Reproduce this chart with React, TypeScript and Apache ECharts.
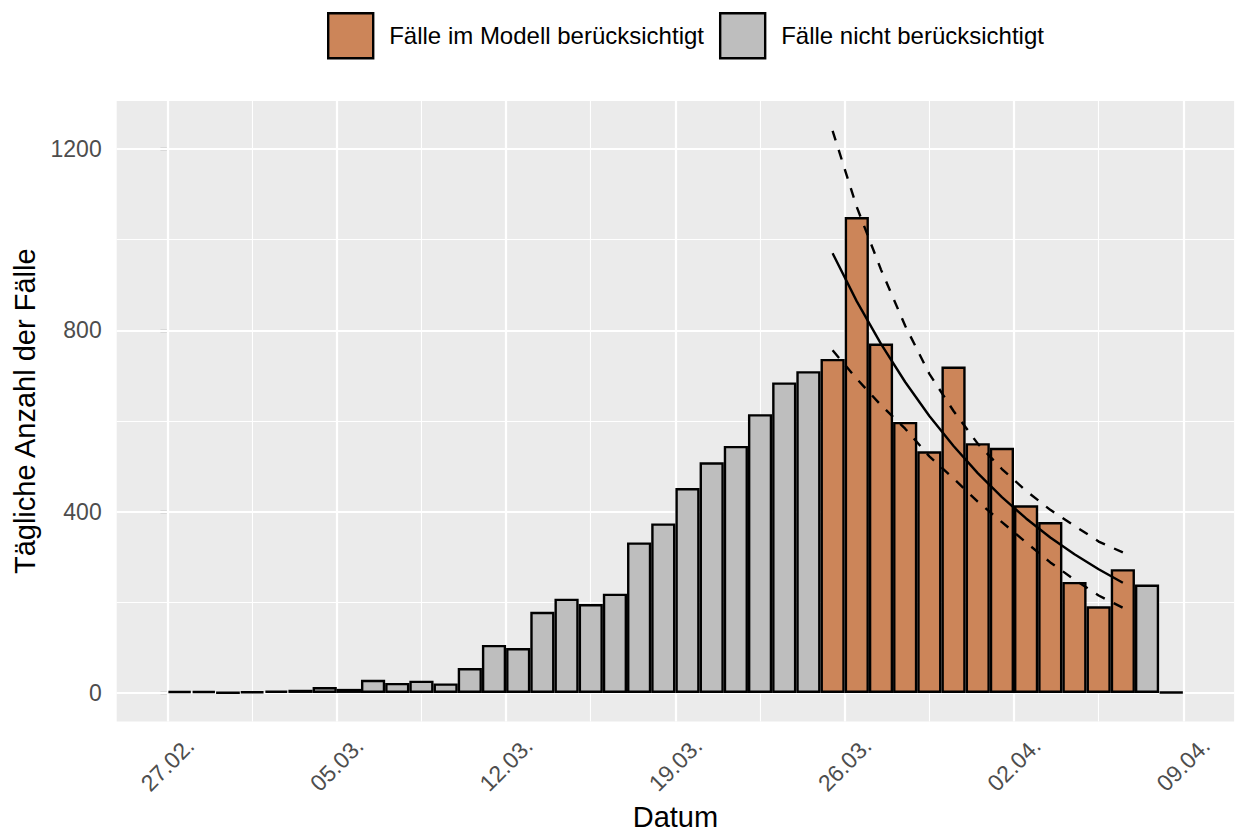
import React, { useEffect, useRef } from "react";
import * as echarts from "echarts";

const modelName = "Fälle im Modell berücksichtigt";
const otherName = "Fälle nicht berücksichtigt";

// bin start, in days after 27.02.
const modelDays = [27, 28, 29, 30, 31, 32, 33, 34, 35, 36, 37, 38, 39];
const modelCases = [737, 1050, 771, 598, 533, 720, 551, 541, 414, 377, 245, 191, 273];

const otherDays = [
  0, 1, 2, 3, 4, 5, 6, 7, 8, 9, 10, 11, 12, 13, 14, 15, 16, 17, 18, 19, 20, 21, 22, 23, 24, 25, 26, 40, 41,
];
const otherCases = [
  4, 4, 1, 3, 5, 7, 13, 9, 29, 22, 27, 21, 55, 106, 99, 179, 208, 196, 219, 332, 374, 452, 509, 545, 615, 685, 710,
  239, 2,
];

// fitted model and its band, one value per modelled day
const fitMid = [970, 864, 770, 686, 611, 545, 485, 432, 385, 343, 306, 273, 243];
const fitUpper = [1240, 1072, 934, 810, 704, 622, 550, 494, 446, 404, 369, 334, 310];
const fitLower = [756, 693, 635, 583, 522, 473, 422, 377, 332, 288, 250, 215, 188];

const xTickDays = [0, 7, 14, 21, 28, 35, 42];
const xTickLabels = ["27.02.", "05.03.", "12.03.", "19.03.", "26.03.", "02.04.", "09.04."];
const xMinorDays = [3.5, 10.5, 17.5, 24.5, 31.5, 38.5];
const yMajor = [0, 400, 800, 1200];
const yMinor = [200, 600, 1000];

const FONT = "'Liberation Sans', Arial, Helvetica, sans-serif";

export default function App() {
  const ref = useRef<HTMLDivElement>(null);

  useEffect(() => {
    const chart = echarts.init(ref.current as HTMLDivElement, undefined, { renderer: "svg" });

    const center = (d: number) => d + 0.5;
    const gridLines = [
      ...yMajor.map((v) => ({ yAxis: v, lineStyle: { width: 2.2 } })),
      ...yMinor.map((v) => ({ yAxis: v, lineStyle: { width: 1.1 } })),
      ...xTickDays.map((v) => ({ xAxis: v, lineStyle: { width: 2.2 } })),
      ...xMinorDays.map((v) => ({ xAxis: v, lineStyle: { width: 1.1 } })),
    ];

    const lineData = (vals: number[]) => modelDays.map((d, i) => [center(d), vals[i]]);

    const option: any = {
      animation: false,
      textStyle: { fontFamily: FONT },
      legend: {
        data: [modelName, otherName],
        left: 327,
        top: 12,
        padding: 0,
        icon: "rect",
        itemWidth: 45,
        itemHeight: 45,
        itemGap: 15,
        selectedMode: false,
        itemStyle: { borderColor: "#000", borderWidth: 2.4 },
        textStyle: { fontSize: 24, color: "#000", fontFamily: FONT, padding: [0, 0, 0, 11] },
      },
      grid: {
        left: 116.7,
        right: 3.9,
        top: 101,
        bottom: 111.5,
        show: true,
        backgroundColor: "#EBEBEB",
        borderWidth: 0,
        containLabel: false,
        outerBoundsMode: "none",
      },
      xAxis: {
        type: "value",
        min: -2.1,
        max: 44.1,
        axisLine: { show: false },
        axisTick: { show: false },
        splitLine: { show: false },
        axisLabel: {
          customValues: xTickDays,
          formatter: (v: number) => xTickLabels[xTickDays.indexOf(v)] ?? "",
          rotate: 45,
          align: "center",
          verticalAlign: "middle",
          margin: 43,
          fontSize: 23,
          color: "#4D4D4D",
          fontFamily: FONT,
        },
        name: "Datum",
        nameLocation: "middle",
        nameGap: 79,
        nameTextStyle: { fontSize: 29, color: "#000", fontFamily: FONT },
      },
      yAxis: {
        type: "value",
        min: -63,
        max: 1306,
        axisLine: { show: true, lineStyle: { color: "rgba(0,0,0,0)", width: 0 } },
        axisTick: {
          show: true,
          inside: false,
          length: 7,
          customValues: yMajor,
          lineStyle: { color: "#333333", width: 2.2 },
        },
        axisLabel: {
          customValues: yMajor,
          formatter: (v: number) => String(v),
          margin: 15,
          fontSize: 23,
          color: "#4D4D4D",
          fontFamily: FONT,
        },
        splitLine: { show: false },
        name: "Tägliche Anzahl der Fälle",
        nameLocation: "middle",
        nameGap: 76,
        nameTextStyle: { fontSize: 29, color: "#000", fontFamily: FONT },
      },
      series: [
        {
          name: otherName,
          type: "bar",
          barWidth: "100%",
          barGap: "-100%",
          data: otherDays.map((d, i) => [center(d), otherCases[i]]),
          itemStyle: { color: "#BEBEBE", borderColor: "#000", borderWidth: 2.4 },
          markLine: {
            silent: true,
            symbol: "none",
            z: 1,
            label: { show: false },
            lineStyle: { color: "#FFFFFF", type: "solid" },
            emphasis: { disabled: true },
            data: gridLines,
          },
        },
        {
          name: modelName,
          type: "bar",
          barWidth: "100%",
          barGap: "-100%",
          data: modelDays.map((d, i) => [center(d), modelCases[i]]),
          itemStyle: { color: "#CC8559", borderColor: "#000", borderWidth: 2.4 },
        },
        {
          name: "lower",
          type: "line",
          symbol: "none",
          data: lineData(fitLower),
          lineStyle: { color: "#000", width: 2.4, type: [10, 10] },
          z: 3,
        },
        {
          name: "upper",
          type: "line",
          symbol: "none",
          data: lineData(fitUpper),
          lineStyle: { color: "#000", width: 2.4, type: [10, 10] },
          z: 3,
        },
        {
          name: "fit",
          type: "line",
          symbol: "none",
          data: lineData(fitMid),
          lineStyle: { color: "#000", width: 2.4 },
          z: 3,
        },
      ],
    };

    chart.setOption(option);
    return () => chart.dispose();
  }, []);

  return (
    <div
      ref={ref}
      style={{ position: "fixed", left: 0, top: 0, width: 1238, height: 833, background: "#fff" }}
    />
  );
}
